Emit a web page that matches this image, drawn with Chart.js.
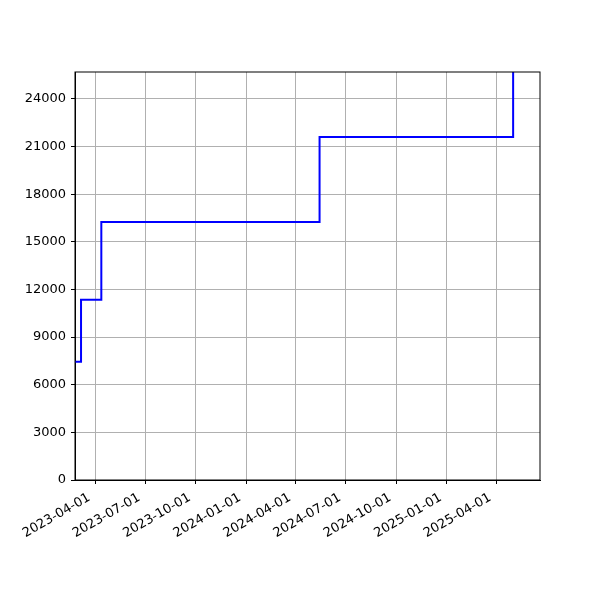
<!DOCTYPE html>
<html>
<head>
<meta charset="utf-8">
<script src="https://cdn.jsdelivr.net/npm/chart.js@4"></script>
<style>
  html, body { margin: 0; padding: 0; background: #fff; }
  #wrap { width: 600px; height: 600px; }
</style>
</head>
<body>
<div id="wrap"><canvas id="stepChart" width="600" height="600"></canvas></div>
<script>
'use strict';

// change dates and the level reached on each date
const changeDates = ['2023-02-23', '2023-03-06', '2023-04-12', '2024-05-14', '2025-05-02'];
const levels = [7450, 11350, 16250, 21600, 27000];

const xTickLabels = ['2023-04-01', '2023-07-01', '2023-10-01', '2024-01-01', '2024-04-01',
  '2024-07-01', '2024-10-01', '2025-01-01', '2025-04-01'];
const yTickValues = [0, 3000, 6000, 9000, 12000, 15000, 18000, 21000, 24000];

const xRange = ['2023-02-23', '2025-06-20'];
const yRange = [0, 25700];

const toMs = (s) => Date.parse(s + 'T00:00:00Z');
const fmtDate = (ms) => new Date(ms).toISOString().slice(0, 10);

const points = changeDates.map((d, i) => ({ x: toMs(d), y: levels[i] }));

const frame = {
  id: 'frame',
  afterDraw(chart) {
    const { ctx, chartArea: a } = chart;
    ctx.save();
    ctx.strokeStyle = '#000';
    ctx.lineWidth = 1;
    ctx.strokeRect(a.left, a.top, a.right - a.left, a.bottom - a.top);
    ctx.restore();
  },
};

const font = { family: 'DejaVu Sans', size: 13 };

new Chart(document.getElementById('stepChart').getContext('2d'), {
  type: 'line',
  data: {
    datasets: [
      {
        data: points,
        borderColor: '#0000ff',
        borderWidth: 2,
        stepped: true,
        pointRadius: 0,
        fill: false,
        clip: 0,
      },
    ],
  },
  options: {
    responsive: false,
    animation: false,
    layout: { padding: { top: 72, right: 60, left: 0, bottom: 0 } },
    plugins: { legend: { display: false }, tooltip: { enabled: false } },
    scales: {
      x: {
        type: 'linear',
        min: toMs(xRange[0]),
        max: toMs(xRange[1]),
        afterBuildTicks: (axis) => {
          axis.ticks = xTickLabels.map((s) => ({ value: toMs(s) }));
        },
        afterFit: (axis) => { axis.height = 120; },
        ticks: {
          color: '#000',
          font,
          minRotation: 30,
          maxRotation: 30,
          padding: 6,
          labelOffset: -6,
          autoSkip: false,
          callback: (v) => fmtDate(v),
        },
        grid: { color: '#b0b0b0', lineWidth: 1, tickColor: '#000', tickLength: 4 },
        border: { color: '#000' },
      },
      y: {
        min: yRange[0],
        max: yRange[1],
        afterBuildTicks: (axis) => {
          axis.ticks = yTickValues.map((v) => ({ value: v }));
        },
        afterFit: (axis) => { axis.width = 75; },
        ticks: { color: '#000', font, padding: 5, callback: (v) => String(v) },
        grid: { color: '#b0b0b0', lineWidth: 1, tickColor: '#000', tickLength: 4 },
        border: { color: '#000' },
      },
    },
  },
  plugins: [frame],
});
</script>
</body>
</html>
